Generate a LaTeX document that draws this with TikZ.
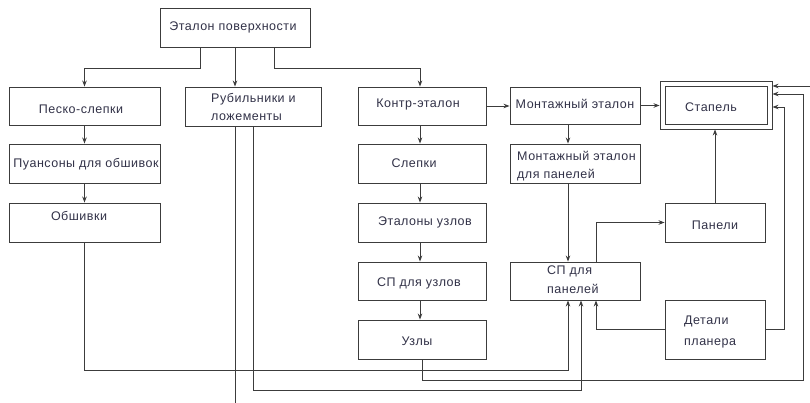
\documentclass[tikz,border=0pt]{standalone}
\usepackage{fontspec}
\setmainfont{Liberation Sans}[LetterSpace=4]
\usetikzlibrary{arrows.meta}
\definecolor{txt}{RGB}{50,50,72}
\definecolor{ln}{RGB}{60,60,60}
\tikzset{
  box/.style={draw=ln, line width=0.9pt, inner sep=0pt, fill=white},
  lbl/.style={text=txt, font=\fontsize{12.5}{14}\selectfont, inner sep=0pt, text height=8pt, text depth=1pt},
  conn/.style={draw=ln, line width=0.9pt},
  arr/.style={conn, -{Stealth[length=6pt,width=4.5pt]}}
}
\begin{document}
\begin{tikzpicture}[x=1pt,y=-1pt]
\useasboundingbox (0,0) rectangle (810,403);
% boxes
\node[box,minimum width=150pt,minimum height=39pt] (top) at (235,27.5) {};
\node[box,minimum width=151pt,minimum height=38pt] (pesko) at (84.5,106) {};
\node[box,minimum width=136pt,minimum height=39pt] (rub) at (253,106.5) {};
\node[box,minimum width=128pt,minimum height=38pt] (kontr) at (422,106) {};
\node[box,minimum width=130pt,minimum height=37pt] (mont) at (575,105.5) {};
\node[box,minimum width=112pt,minimum height=48pt] (stapo) at (716,105) {};
\node[box,minimum width=102pt,minimum height=38pt] (stapi) at (716,105) {};
\node[box,minimum width=151pt,minimum height=39pt] (puans) at (84.5,163.5) {};
\node[box,minimum width=151pt,minimum height=39pt] (obsh) at (84.5,222.5) {};
\node[box,minimum width=128pt,minimum height=39pt] (slepki) at (422,163.5) {};
\node[box,minimum width=130pt,minimum height=39pt] (mpan) at (575,163.5) {};
\node[box,minimum width=128pt,minimum height=39pt] (etuz) at (422,222.5) {};
\node[box,minimum width=128pt,minimum height=38pt] (spuz) at (422,281) {};
\node[box,minimum width=128pt,minimum height=39pt] (uzly) at (422,339.5) {};
\node[box,minimum width=130pt,minimum height=38pt] (sppan) at (575,281) {};
\node[box,minimum width=100pt,minimum height=39pt] (panel) at (715,222.5) {};
\node[box,minimum width=100pt,minimum height=59pt] (detali) at (715,329.5) {};
% texts
\node[lbl] (t1) at (233,27) {Эталон поверхности};
\node[lbl] (t2) at (81,110) {Песко-слепки};
\node[lbl,anchor=west] (t3a) at (211,99) {Рубильники и};
\node[lbl,anchor=west] (t3b) at (211,117) {ложементы};
\node[lbl] (t4) at (418,104) {Контр-эталон};
\node[lbl] (t5) at (575,105) {Монтажный эталон};
\node[lbl] (t6) at (711,108) {Стапель};
\node[lbl] (t7) at (86,164) {Пуансоны для обшивок};
\node[lbl] (t8) at (79,217) {Обшивки};
\node[lbl] (t9) at (414,164) {Слепки};
\node[lbl,anchor=west] (t10a) at (517,157) {Монтажный эталон};
\node[lbl,anchor=west] (t10b) at (517,175) {для панелей};
\node[lbl] (t11) at (425,222) {Эталоны узлов};
\node[lbl] (t12) at (419,283) {СП для узлов};
\node[lbl] (t13) at (417,342) {Узлы};
\node[lbl,anchor=west] (t14a) at (547,271) {СП для};
\node[lbl,anchor=west] (t14b) at (547,290) {панелей};
\node[lbl] (t15) at (715,226) {Панели};
\node[lbl,anchor=west] (t16a) at (684,321) {Детали};
\node[lbl,anchor=west] (t16b) at (684,342) {планера};
% connectors
\draw[arr] ([xshift=-35pt]top.south) -- ++(0,21) -| (pesko);
\draw[arr] (top.south) -- (top.south |- rub.north);
\draw[arr] ([xshift=39pt]top.south) -- ++(0,21) -| ([xshift=-2pt]kontr.north);
\draw[arr] (pesko) -- (puans);
\draw[arr] (puans) -- (obsh);
\draw[arr] (obsh.south) -- ++(0,128) -| ([xshift=-7pt]sppan.south);
\coordinate (rubend) at (235,403);
\draw[conn] ([xshift=-18pt]rub.south) -- (rubend);
\draw[arr] (rub.south) -- ++(0,264) -| ([xshift=6pt]sppan.south);
\draw[arr] ([xshift=-2pt]kontr.south) -- ([xshift=-2pt]slepki.north);
\draw[arr] ([xshift=-2pt]slepki.south) -- ([xshift=-2pt]etuz.north);
\draw[arr] ([xshift=-2pt]etuz.south) -- ([xshift=-2pt]spuz.north);
\draw[arr] ([xshift=-2pt]spuz.south) -- ([xshift=-2pt]uzly.north);
\draw[arr] (kontr.east) -- (kontr.east -| mont.west);
\draw[arr] (mont.east) -- (mont.east -| stapo.west);
\draw[arr] ([xshift=-7pt]mont.south) -- ([xshift=-7pt]mpan.north);
\draw[arr] ([xshift=-7pt]mpan.south) -- ([xshift=-7pt]sppan.north);
\draw[arr] ([xshift=21pt]sppan.north) |- (panel.west);
\draw[arr] (panel.north) -- (panel.north |- stapo.south);
\draw[arr] (detali.west) -| ([xshift=21pt]sppan.south);
\draw[arr] (uzly.south) -- ++(0,21) -| (803,94) -- ([yshift=11pt]stapo.east);
\draw[arr] (detali.east) -- ++(19,0) |- ([yshift=-2pt]stapo.east);
\coordinate (ext) at (810,86);
\draw[arr] (ext) -- (stapo.east |- ext);
\end{tikzpicture}
\end{document}
